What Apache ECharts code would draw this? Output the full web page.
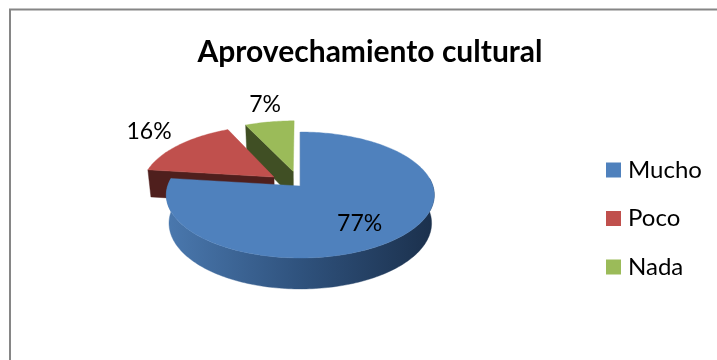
<!DOCTYPE html>
<html>
<head>
<meta charset="utf-8">
<style>html,body{margin:0;padding:0;background:#fff}#chart{width:717px;height:360px}</style>
<script src="https://cdn.jsdelivr.net/npm/echarts@6/dist/echarts.min.js"></script>
</head>
<body>
<div id="chart"></div>
<script>
// Survey answers, in percent
const categories = ['Mucho', 'Poco', 'Nada'];
const values = [77, 16, 7];
const exploded = [0, 0.25, 0.25];

const topColors = ['#4f81bd', '#c0504d', '#9bbb59'];
const wallColors = ['#2c4d75', '#4f1f1d', '#404f24'];

// Perspective disc: centre pixel, radius, foreshortening and thickness
const disc = { x: 300.3, y: 186, rx: 132.6, ry: 61.7, k: 1 / 7, depth: 27.8, bottomScale: 0.98 };

// Label placement: distance from the centre along the slice's mid angle, plus a nudge
const labelLayout = [
  { r: 0.68, dx: -5, dy: 4 },
  { r: 1.72, dx: 10, dy: 0 },
  { r: 1.42, dx: -1, dy: -10 }
];

const total = values.reduce((a, b) => a + b, 0);
const FONT = 'Lato, Carlito, sans-serif';

// Projects a point of the disc plane (u right, v away from viewer) to pixels
function project(u, v, lower) {
  const w = 1 + disc.k * v;
  const s = lower ? disc.bottomScale : 1;
  return [
    disc.x + s * disc.rx * u / w,
    disc.y - s * disc.ry * v / w + (lower ? disc.depth / w : 0)
  ];
}

function rimPoints(a0, a1, off, lower) {
  const pts = [];
  const steps = Math.max(4, Math.ceil((a1 - a0) / 0.02));
  for (let i = 0; i <= steps; i++) {
    const a = a0 + (a1 - a0) * i / steps;
    pts.push(project(off[0] + Math.sin(a), off[1] + Math.cos(a), lower));
  }
  return pts;
}

function sliceRenderer(index, startShare) {
  return function (params, api) {
    const share = api.value(0) / total;
    const a0 = startShare * 2 * Math.PI;
    const a1 = (startShare + share) * 2 * Math.PI;
    const mid = (a0 + a1) / 2;
    const off = [exploded[index] * Math.sin(mid), exploded[index] * Math.cos(mid)];

    const sideFill = index === 0
      ? new echarts.graphic.LinearGradient(167, 0, 434, 0, [
          { offset: 0, color: '#4a78ae' },
          { offset: 0.5, color: '#2f527d' },
          { offset: 1, color: '#1b304c' }
        ], true)
      : wallColors[index];

    const topRim = rimPoints(a0, a1, off, false);
    const lowRim = rimPoints(a0, a1, off, true);
    const apexTop = project(off[0], off[1], false);
    const apexLow = project(off[0], off[1], true);

    const poly = (points, fill) => ({
      type: 'polygon',
      shape: { points },
      style: { fill, stroke: fill, lineWidth: 0.4 }
    });

    const children = [];

    // Only the part of the outer wall that faces the viewer is painted
    const wallFrom = Math.max(a0, Math.PI * 0.46);
    const wallTo = Math.min(a1, Math.PI * 1.54);
    if (wallTo > wallFrom) {
      const wallTop = rimPoints(wallFrom, wallTo, off, false);
      const wallLow = rimPoints(wallFrom, wallTo, off, true);
      children.push(poly(wallTop.concat(wallLow.reverse()), sideFill));
    }
    children.push(
      poly([apexTop, topRim[0], lowRim[0], apexLow], sideFill),
      poly([apexTop].concat(topRim), topColors[index])
    );

    const lay = labelLayout[index];
    const lp = project(lay.r * Math.sin(mid), lay.r * Math.cos(mid), false);
    children.push({
      type: 'text',
      z2: 10,
      style: {
        text: api.value(0) + '%',
        x: lp[0] + lay.dx,
        y: lp[1] + lay.dy,
        fill: '#000',
        font: '23px ' + FONT,
        align: 'center',
        verticalAlign: 'middle'
      }
    });
    return { type: 'group', children };
  };
}

// Far slices are painted first so the large slice sits in front of them
const paintOrder = [2, 1, 0];
const startShares = values.map((_, i) =>
  values.slice(0, i).reduce((a, b) => a + b, 0) / total);

const series = categories.map((name, i) => ({
  name,
  type: 'custom',
  coordinateSystem: 'none',
  z: 2 + paintOrder.indexOf(i),
  itemStyle: { color: topColors[i] },
  renderItem: sliceRenderer(i, startShares[i]),
  data: [values[i]]
}));

const chart = echarts.init(document.getElementById('chart'), null, { renderer: 'canvas' });
chart.setOption({
  animation: false,
  backgroundColor: '#fff',
  title: {
    text: 'Aprovechamiento cultural',
    left: 365,
    top: 32,
    textAlign: 'center',
    textStyle: { fontFamily: FONT, fontSize: 30, fontWeight: 'bold', color: '#000' }
  },
  legend: {
    orient: 'vertical',
    left: 606,
    top: 158,
    icon: 'rect',
    itemWidth: 15,
    itemHeight: 15,
    itemGap: 24.5,
    padding: 0,
    data: categories,
    textStyle: { fontFamily: FONT, fontSize: 24, color: '#000', padding: [0, 0, 0, 2] }
  },
  graphic: [{
    type: 'polyline',
    silent: true,
    shape: { points: [[10, 362], [10, 9.5], [719, 9.5]] },
    style: { stroke: '#868686', lineWidth: 2, fill: null }
  }],
  series
});
</script>
</body>
</html>
